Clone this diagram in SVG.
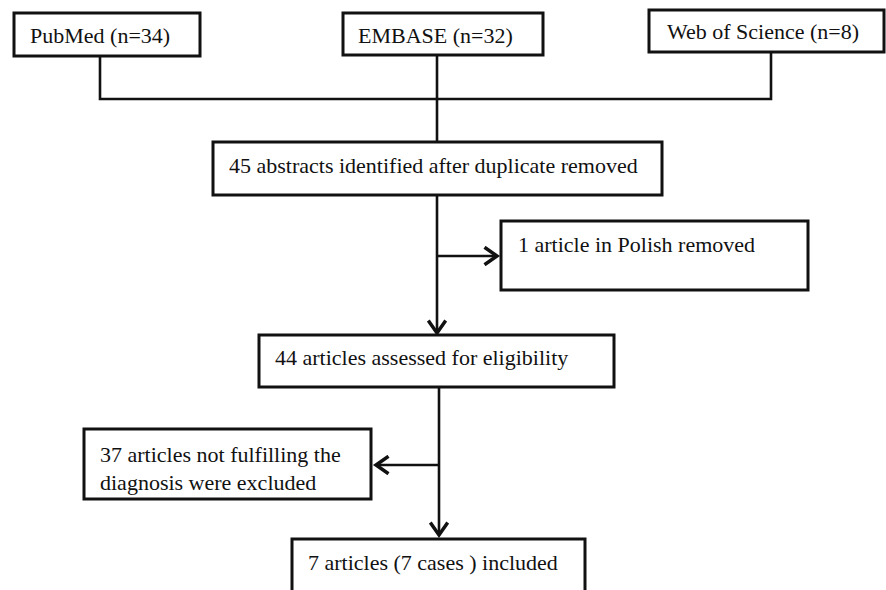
<svg xmlns="http://www.w3.org/2000/svg" width="886" height="590" viewBox="0 0 886 590">
<defs>
<style>
.box{fill:#fff;stroke:#111;stroke-width:3}
.t{font-family:"Liberation Serif","Times New Roman",serif;font-size:22px;fill:#111}
.ln{fill:none;stroke:#111;stroke-width:2.6}
</style>
<marker id="ah" markerUnits="userSpaceOnUse" markerWidth="20" markerHeight="20" viewBox="-12 -8 14 16" refX="0" refY="0" orient="auto">
<path d="M-10,-7 L0,0 L-10,7" fill="none" stroke="#111" stroke-width="2.8"/>
</marker>
</defs>
<rect width="886" height="590" fill="#fff"/>
<g id="connectors">
<polyline class="ln" points="100,56 100,99 771,99 771,52"/>
<line class="ln" x1="437" y1="55" x2="437" y2="142"/>
<line class="ln" x1="437" y1="195" x2="437" y2="333" marker-end="url(#ah)"/>
<line class="ln" x1="437" y1="256" x2="497" y2="256" marker-end="url(#ah)"/>
<line class="ln" x1="439" y1="387" x2="439" y2="535" marker-end="url(#ah)"/>
<line class="ln" x1="439" y1="465" x2="376" y2="465" marker-end="url(#ah)"/>
</g>
<g id="pubmed">
<rect class="box" x="14" y="13" width="186" height="43"/>
<text class="t" x="30" y="43">PubMed (n=34)</text>
</g>
<g id="embase">
<rect class="box" x="343" y="13" width="200" height="42"/>
<text class="t" x="358" y="43">EMBASE (n=32)</text>
</g>
<g id="wos">
<rect class="box" x="649" y="10" width="235" height="42"/>
<text class="t" x="667" y="39">Web of Science (n=8)</text>
</g>
<g id="abstracts">
<rect class="box" x="213" y="142" width="449" height="53"/>
<text class="t" x="229" y="173">45 abstracts identified after duplicate removed</text>
</g>
<g id="polish">
<rect class="box" x="501" y="221" width="307" height="69"/>
<text class="t" x="518" y="252">1 article in Polish removed</text>
</g>
<g id="assessed">
<rect class="box" x="259" y="335" width="355" height="52"/>
<text class="t" x="275" y="365">44 articles assessed for eligibility</text>
</g>
<g id="excluded">
<rect class="box" x="84" y="429" width="287" height="70"/>
<text class="t" x="100" y="462">37 articles not fulfilling the</text>
<text class="t" x="100" y="490">diagnosis were excluded</text>
</g>
<g id="included">
<rect class="box" x="292" y="539" width="293" height="60"/>
<text class="t" x="308" y="570">7 articles (7 cases ) included</text>
</g>
</svg>
